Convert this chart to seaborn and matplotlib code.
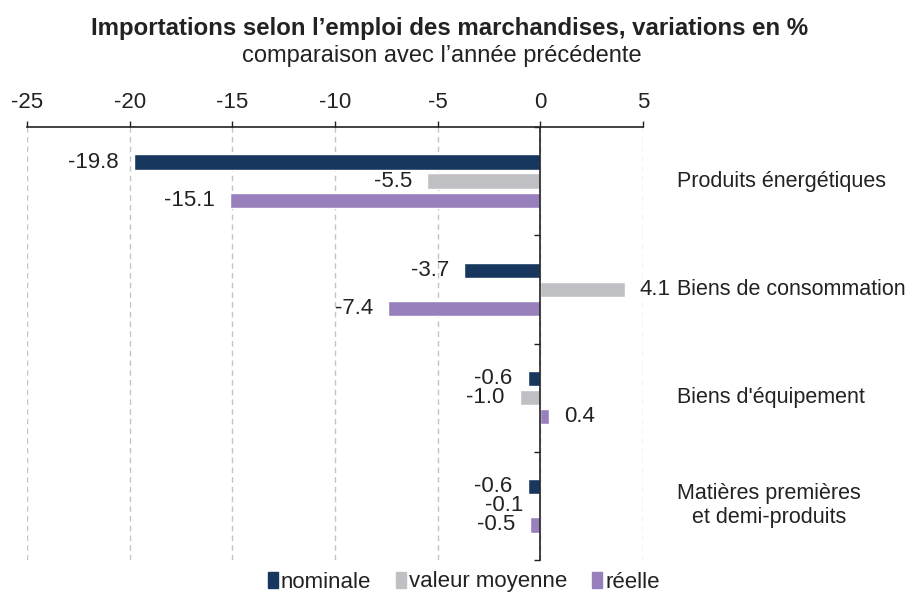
import numpy as np
import pandas as pd
import matplotlib.pyplot as plt
import matplotlib.patches as mpatches
import matplotlib.transforms as mtransforms
import seaborn as sns

# data
categories = ['Produits énergétiques', 'Biens de consommation', "Biens d'équipement",
              'Matières premières\net demi-produits']
series = ['nominale', 'valeur moyenne', 'réelle']
nominale = [-19.8, -3.7, -0.6, -0.6]
valeur_moyenne = [-5.5, 4.1, -1.0, -0.1]
reelle = [-15.1, -7.4, 0.4, -0.5]
x_ticks = [-25, -20, -15, -10, -5, 0, 5]

colors = ['#17375E', '#BFC0C4', '#9880BC']

df = pd.DataFrame({
    'categorie': categories * 3,
    'serie': np.repeat(series, len(categories)),
    'valeur': nominale + valeur_moyenne + reelle,
})

sns.set_theme(style='white')
plt.rcParams['font.family'] = ['Liberation Sans', 'DejaVu Sans']
plt.rcParams['axes.unicode_minus'] = False

fig = plt.figure(figsize=(9.09, 5.92), dpi=100)
ax = fig.add_axes([27 / 909, 1 - 560 / 592, 616 / 909, 433 / 592])

sns.barplot(data=df, y='categorie', x='valeur', hue='serie', palette=colors,
            orient='h', width=0.53, gap=0.2, saturation=1, legend=False, ax=ax)

ax.set_xlim(-25, 5)
ax.set_ylim(3.5, -0.5)
ax.set_xlabel('')
ax.set_ylabel('')

# axis on top, vertical axis at zero
ax.xaxis.tick_top()
ax.set_xticks(x_ticks)
ax.tick_params(axis='x', top=True, bottom=False, direction='out', length=4,
               width=1, color='#222222', labelsize=16, pad=6, labelcolor='#222222')
ax.set_yticks([-0.5, 0.5, 1.5, 2.5, 3.5])
ax.set_yticklabels([])
ax.tick_params(axis='y', left=True, direction='out', length=4, width=1, color='#222222')
ax.spines['left'].set_position(('data', 0))
for side in ['left', 'top']:
    ax.spines[side].set_visible(True)
    ax.spines[side].set_color('#222222')
    ax.spines[side].set_linewidth(1.2)
ax.spines['right'].set_visible(False)
ax.spines['bottom'].set_visible(False)

ax.grid(axis='x', color='#C4C4C4', linestyle=(0, (4, 3)), linewidth=1)
ax.set_axisbelow(True)

for cont in ax.containers:
    ax.bar_label(cont, fmt='%.1f', padding=11, fontsize=16, color='#222222')

trans = mtransforms.blended_transform_factory(ax.transAxes, ax.transData)
for i, cat in enumerate(categories):
    ax.text(1.055, i, cat, transform=trans, ha='left', va='center',
            multialignment='center', fontsize=15.5, color='#222222')

fig.text(0.495, 1 - 28 / 592, 'Importations selon l’emploi des marchandises, variations en %',
         ha='center', va='center', fontsize=17.3, weight='bold', color='#222222')
fig.text(0.486, 1 - 56 / 592, 'comparaison avec l’année précédente',
         ha='center', va='center', fontsize=17, color='#222222')

handles = [mpatches.Patch(color=c) for c in colors]
fig.legend(handles, series, loc='center', bbox_to_anchor=(0.51, 1 - 582 / 592), ncol=3,
           frameon=False, handlelength=0.45, handleheight=0.7, handletextpad=0.15,
           columnspacing=1.1, fontsize=16, labelcolor='#222222')

fig.savefig('out.png', dpi=100)
